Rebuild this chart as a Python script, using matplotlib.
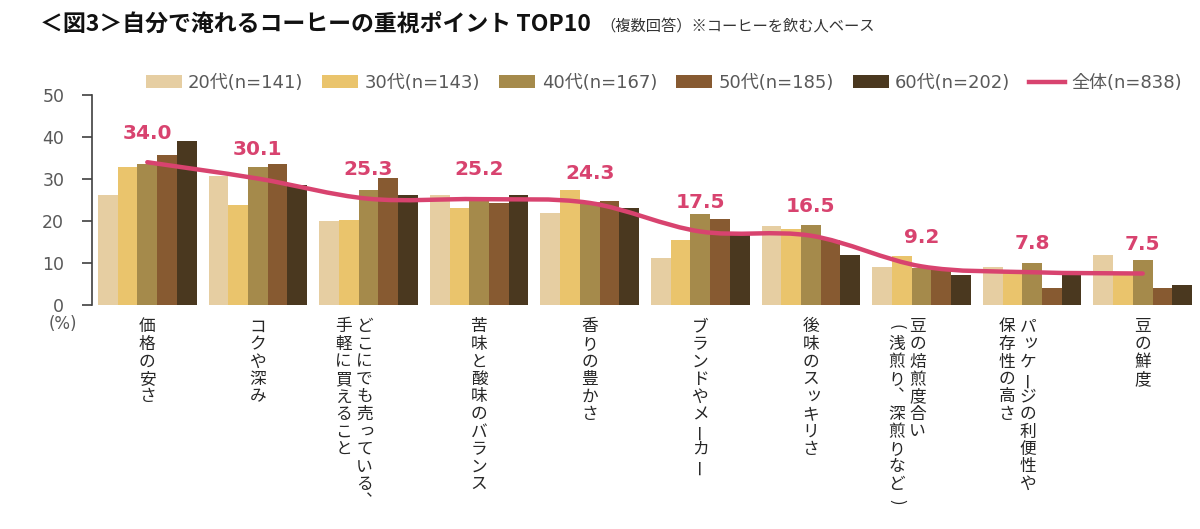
import numpy as np
import matplotlib
matplotlib.use("Agg")
import matplotlib.pyplot as plt
from matplotlib.path import Path
from matplotlib.patches import PathPatch
from matplotlib.lines import Line2D
import matplotlib.transforms as mtransforms

plt.rcParams['font.family'] = ['DejaVu Sans', 'Noto Sans CJK JP']

# --- data ---
labels = [
    ["価格の安さ"],
    ["コクや深み"],
    ["どこにでも売っている、", "手軽に買えること"],
    ["苦味と酸味のバランス"],
    ["香りの豊かさ"],
    ["ブランドやメーカー"],
    ["後味のスッキリさ"],
    ["豆の焙煎度合い", "(浅煎り、深煎りなど)"],
    ["パッケージの利便性や", "保存性の高さ"],
    ["豆の鮮度"],
]
series_names = ["20代(n=141)", "30代(n=143)", "40代(n=167)", "50代(n=185)", "60代(n=202)"]
v20 = [26.3, 30.6, 19.9, 26.2, 21.9, 11.1, 18.9, 9.0, 9.0, 11.9]
v30 = [32.9, 23.7, 20.3, 23.1, 27.3, 15.4, 18.1, 11.7, 8.4, 7.7]
v40 = [33.6, 32.9, 27.4, 25.3, 24.6, 21.6, 19.1, 8.8, 10.1, 10.7]
v50 = [35.7, 33.6, 30.3, 24.3, 24.8, 20.4, 15.5, 8.5, 4.1, 4.1]
v60 = [39.1, 28.6, 26.1, 26.1, 23.2, 17.0, 11.8, 7.2, 7.2, 4.8]
total_name = "全体(n=838)"
total = [34.0, 30.1, 25.3, 25.2, 24.3, 17.5, 16.5, 9.2, 7.8, 7.5]

colors = ["#E6CEA2", "#EAC46C", "#A58A4B", "#875A31", "#4A381F"]
line_color = "#D8436F"
gray = "#595959"

W, H = 1200, 529
fig = plt.figure(figsize=(12, 5.29), dpi=100)
ax = fig.add_axes([92 / W, 1 - 305 / H, (1198 - 92) / W, 210 / H])

x = np.arange(len(total))
bw = 0.178
for k, vals in enumerate([v20, v30, v40, v50, v60]):
    ax.bar(x + (k - 2) * bw, vals, width=bw, color=colors[k], zorder=2,
           label=series_names[k])

# smoothed total line (bezier through the points)
pts = np.column_stack([x, total]).astype(float)
n = len(pts)
verts = [tuple(pts[0])]
codes = [Path.MOVETO]
for i in range(n - 1):
    p0 = pts[i - 1] if i > 0 else pts[i]
    p1 = pts[i]
    p2 = pts[i + 1]
    p3 = pts[i + 2] if i + 2 < n else pts[i + 1]
    verts += [tuple(p1 + (p2 - p0) / 6), tuple(p2 - (p3 - p1) / 6), tuple(p2)]
    codes += [Path.CURVE4] * 3
ax.add_patch(PathPatch(Path(verts, codes), fill=False, edgecolor=line_color,
                       lw=3.2, capstyle='round', joinstyle='round', zorder=4))

for xi, t in zip(x, total):
    ax.annotate(f"{t:.1f}", (xi, t), xytext=(0, 21), textcoords='offset points',
                ha='center', va='center', fontsize=14.5, fontweight='bold',
                color=line_color, zorder=5)

ax.set_xlim(-0.5, 9.5)
ax.set_ylim(0, 50)
ax.set_yticks(range(0, 51, 10))
ax.set_xticks([])
for s in ['top', 'right', 'bottom']:
    ax.spines[s].set_visible(False)
ax.spines['left'].set_color("#404040")
ax.spines['left'].set_linewidth(1.2)
ax.tick_params(axis='y', direction='out', length=7, width=1.2, color="#404040",
               labelsize=12.5, labelcolor=gray, pad=13)

fig.text(63 / W, 1 - 324 / H, "(%)", ha='center', va='center', fontsize=12,
         color=gray)

# vertical category labels
trans = mtransforms.blended_transform_factory(ax.transData, fig.transFigure)
pitch = 17.5
rot_chars = {'ー': 90, '(': -90, ')': -90, '（': -90, '）': -90}
small = set("ッっャュョゃゅょ")
for xi, cols in zip(x, labels):
    if len(cols) == 1:
        offs = [0]
    else:
        offs = [-4, -25]
    for col, off in zip(cols, offs):
        xd = xi + off / 110.6
        for j, ch in enumerate(col):
            yp = 327 + j * pitch
            dx = 0
            if ch == '、':
                ch = '︑'
            if ch in small:
                dx = 2 / 110.6
                yp -= 2
            ax.text(xd + dx, 1 - yp / H, ch, transform=trans, ha='center',
                    va='center', fontsize=12, color="#262626",
                    rotation=rot_chars.get(ch, 0),
                    family=['Noto Sans CJK JP', 'DejaVu Sans'])

# legend
handles, lbls = ax.get_legend_handles_labels()
handles.append(Line2D([0], [0], color=line_color, lw=3.2))
lbls.append(total_name)
fig.legend(handles, lbls, loc='center', bbox_to_anchor=(664 / W, 1 - 83 / H),
           ncol=6, frameon=False, fontsize=13, labelcolor=gray,
           handlelength=2.0, handleheight=0.7, handletextpad=0.35,
           columnspacing=1.05, borderaxespad=0)

# title
fig.text(40 / W, 1 - 24 / H, "＜図3＞自分で淹れるコーヒーの重視ポイント TOP10",
         ha='left', va='center', fontsize=16.5, fontweight='bold', color="#111111",
         family=['Noto Sans CJK JP', 'DejaVu Sans'])
fig.text(600 / W, 1 - 26 / H, "（複数回答）※コーヒーを飲む人ベース",
         ha='left', va='center', fontsize=11, color="#333333",
         family=['Noto Sans CJK JP', 'DejaVu Sans'])

fig.savefig("out.png", dpi=100)
